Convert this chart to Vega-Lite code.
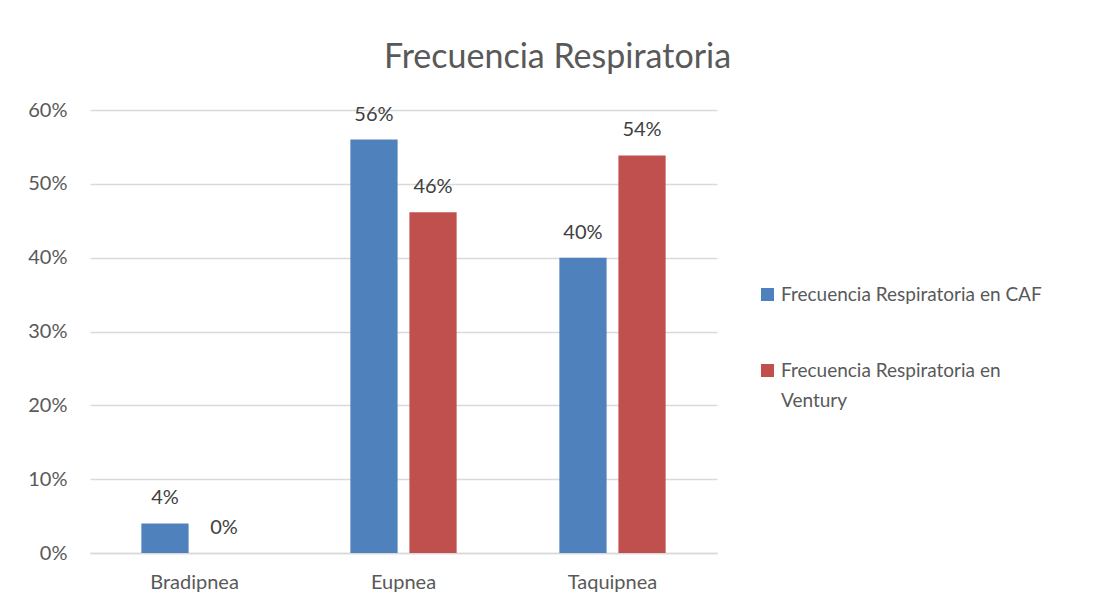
{
  "$schema": "https://vega.github.io/schema/vega-lite/v6.json",
  "width": 627,
  "height": 443,
  "autosize": {"type": "none"},
  "padding": {"left": 90, "top": 110, "right": 376, "bottom": 55},
  "background": "white",
  "title": {
    "text": "Frecuencia Respiratoria",
    "fontSize": 34,
    "fontWeight": "normal",
    "font": "Lato",
    "color": "#595959",
    "anchor": "middle",
    "dx": 154,
    "offset": 25
  },
  "config": {
    "font": "Lato",
    "view": {"stroke": null},
    "style": {"guide-label": {"lineHeight": 30}}
  },
  "data": {
    "values": [
      {"categoria": "Bradipnea", "serie": "Frecuencia Respiratoria en CAF", "valor": 0.04},
      {"categoria": "Bradipnea", "serie": "Frecuencia Respiratoria  en Ventury", "valor": 0.0},
      {"categoria": "Eupnea", "serie": "Frecuencia Respiratoria en CAF", "valor": 0.56},
      {"categoria": "Eupnea", "serie": "Frecuencia Respiratoria  en Ventury", "valor": 0.4615},
      {"categoria": "Taquipnea", "serie": "Frecuencia Respiratoria en CAF", "valor": 0.40},
      {"categoria": "Taquipnea", "serie": "Frecuencia Respiratoria  en Ventury", "valor": 0.5385}
    ]
  },
  "layer": [
    {
      "mark": {"type": "bar"},
      "encoding": {
        "x": {
          "field": "categoria",
          "type": "nominal",
          "sort": ["Bradipnea", "Eupnea", "Taquipnea"],
          "scale": {"paddingInner": 0, "paddingOuter": 0},
          "axis": {
            "title": null,
            "labelAngle": 0,
            "labelFontSize": 20,
            "labelColor": "#595959",
            "labelPadding": 19,
            "ticks": false,
            "domain": true,
            "domainColor": "#D9D9D9",
            "domainWidth": 1.5
          }
        },
        "xOffset": {
          "field": "serie",
          "type": "nominal",
          "sort": ["Frecuencia Respiratoria en CAF", "Frecuencia Respiratoria  en Ventury"],
          "scale": {"paddingInner": 0.2, "paddingOuter": 0.87}
        },
        "y": {
          "field": "valor",
          "type": "quantitative",
          "scale": {"domain": [0, 0.6], "nice": false},
          "axis": {
            "title": null,
            "format": ".0%",
            "values": [0, 0.1, 0.2, 0.3, 0.4, 0.5, 0.6],
            "labelOverlap": false,
            "labelFontSize": 20,
            "labelColor": "#595959",
            "labelPadding": 23,
            "ticks": false,
            "domain": false,
            "gridColor": "#D9D9D9",
            "gridWidth": 1.5
          }
        },
        "color": {
          "field": "serie",
          "type": "nominal",
          "scale": {
            "domain": ["Frecuencia Respiratoria en CAF", "Frecuencia Respiratoria  en Ventury"],
            "range": ["#4F81BD", "#C0504D"]
          },
          "legend": {
            "title": null,
            "orient": "none",
            "legendX": 668,
            "legendY": 175,
            "symbolType": "square",
            "symbolSize": 169,
            "symbolStrokeWidth": 0,
            "symbolOpacity": 1,
            "labelFontSize": 19,
            "labelColor": "#595959",
            "labelOffset": 4,
            "labelLimit": 400,
            "rowPadding": 56,
            "labelExpr": "datum.label == 'Frecuencia Respiratoria  en Ventury' ? ['Frecuencia Respiratoria  en', 'Ventury'] : datum.label"
          }
        }
      }
    },
    {
      "mark": {"type": "text", "fontSize": 20, "color": "#404040", "baseline": "middle", "dy": -25},
      "encoding": {
        "x": {"field": "categoria", "type": "nominal", "sort": ["Bradipnea", "Eupnea", "Taquipnea"]},
        "xOffset": {"field": "serie", "type": "nominal", "sort": ["Frecuencia Respiratoria en CAF", "Frecuencia Respiratoria  en Ventury"]},
        "y": {"field": "valor", "type": "quantitative"},
        "text": {"field": "valor", "type": "quantitative", "format": ".0%"}
      }
    }
  ]
}
